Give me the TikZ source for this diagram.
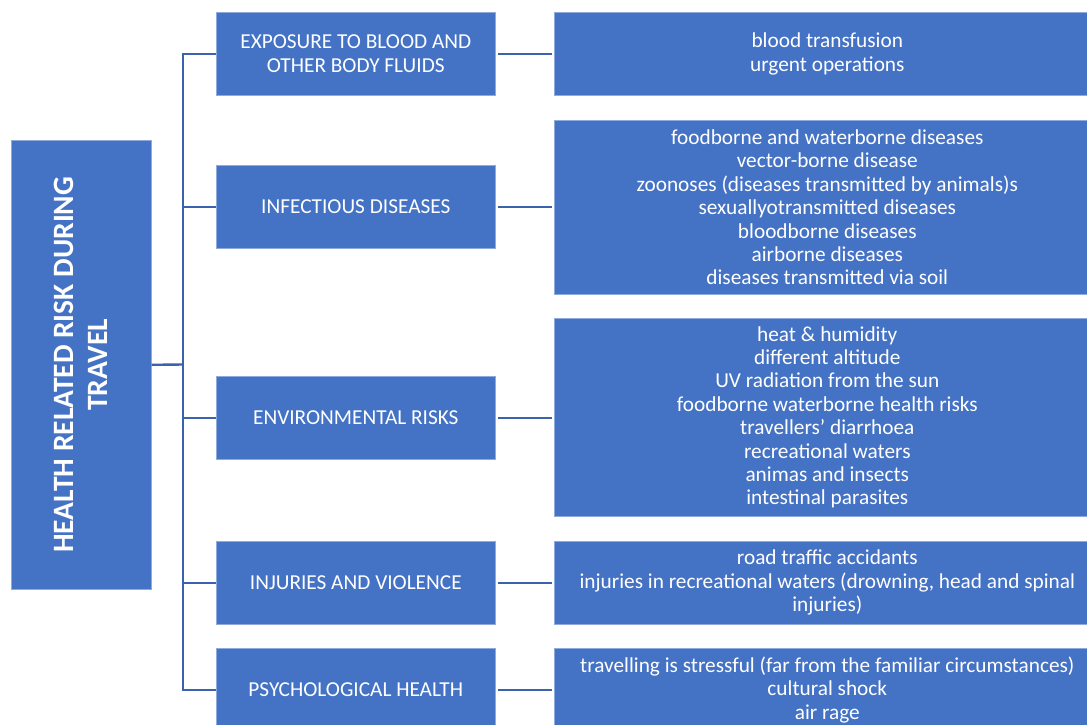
\documentclass[tikz,border=0pt]{standalone}
\usepackage{fontspec}
\setmainfont{Carlito}
\definecolor{boxblue}{HTML}{4472C4}
\definecolor{linkblue}{HTML}{3A62AD}
\definecolor{edgeblue}{HTML}{8FAADC}
\begin{document}
\begin{tikzpicture}[x=1pt,y=-1pt,
  box/.style={fill=boxblue, draw=edgeblue, line width=0.6pt, text=white, align=center,
    inner sep=0pt, anchor=north west, font=\fontsize{21.3}{23.4}\selectfont},
  midbox/.style={box, minimum width=279pt, minimum height=83pt},
  rightbox/.style={box, minimum width=546pt},
  conn/.style={draw=linkblue, line width=2.4pt},
  rootlabel/.style={text=white, align=center, rotate=90, inner sep=0pt,
    font=\fontsize{29.5}{34}\selectfont\bfseries}]
\useasboundingbox (0,0) rectangle (1087,724);
\clip (0,0) rectangle (1087,724);
\fill[white] (0,0) rectangle (1087,724);

% root
\node[box, minimum width=140pt, minimum height=449pt] (root) at (11,140) {};
\node[rootlabel] (roottext) at (root.center) {HEALTH RELATED RISK DURING\\TRAVEL};

% middle column
\node[midbox] (m1) at (216,12) {EXPOSURE TO BLOOD AND\\OTHER BODY FLUIDS};
\node[midbox] (m2) at (216,165) {INFECTIOUS DISEASES};
\node[midbox] (m3) at (216,376) {ENVIRONMENTAL RISKS};
\node[midbox] (m4) at (216,541) {INJURIES AND VIOLENCE};
\node[midbox] (m5) at (216,648) {PSYCHOLOGICAL HEALTH};

% right column
\node[rightbox, minimum height=83pt] (r1) at (554,12) {blood transfusion\\urgent operations};
\node[rightbox, minimum height=174pt] (r2) at (554,120) {foodborne and waterborne diseases\\vector-borne disease\\zoonoses (diseases transmitted by animals)s\\sexuallyotransmitted diseases\\bloodborne diseases\\airborne diseases\\diseases transmitted via soil};
\node[rightbox, minimum height=198pt] (r3) at (554,318) {heat \& humidity\\different altitude\\UV radiation from the sun\\foodborne waterborne health risks\\travellers' diarrhoea\\recreational waters\\animas and insects\\intestinal parasites};
\node[rightbox, minimum height=83pt] (r4) at (554,541) {road traffic accidants\\injuries in recreational waters (drowning, head and spinal\\injuries)};
\node[rightbox, minimum height=83pt] (r5) at (554,648) {travelling is stressful (far from the familiar circumstances)\\cultural shock\\air rage};

% connectors
\coordinate (trunk) at (183,364.5);
\draw[conn] (root.east) -- (trunk);
\draw[conn] (m1.west) -| (trunk);
\draw[conn] (m2.west) -| (trunk);
\draw[conn] (m3.west) -| (trunk);
\draw[conn] (m4.west) -| (trunk);
\draw[conn] (m5.west) -| (trunk);
\foreach \i in {1,...,5}{
  \draw[conn, shorten <=2pt, shorten >=2pt] (m\i.east) -- (m\i.east -| r\i.west);
}
\end{tikzpicture}
\end{document}
